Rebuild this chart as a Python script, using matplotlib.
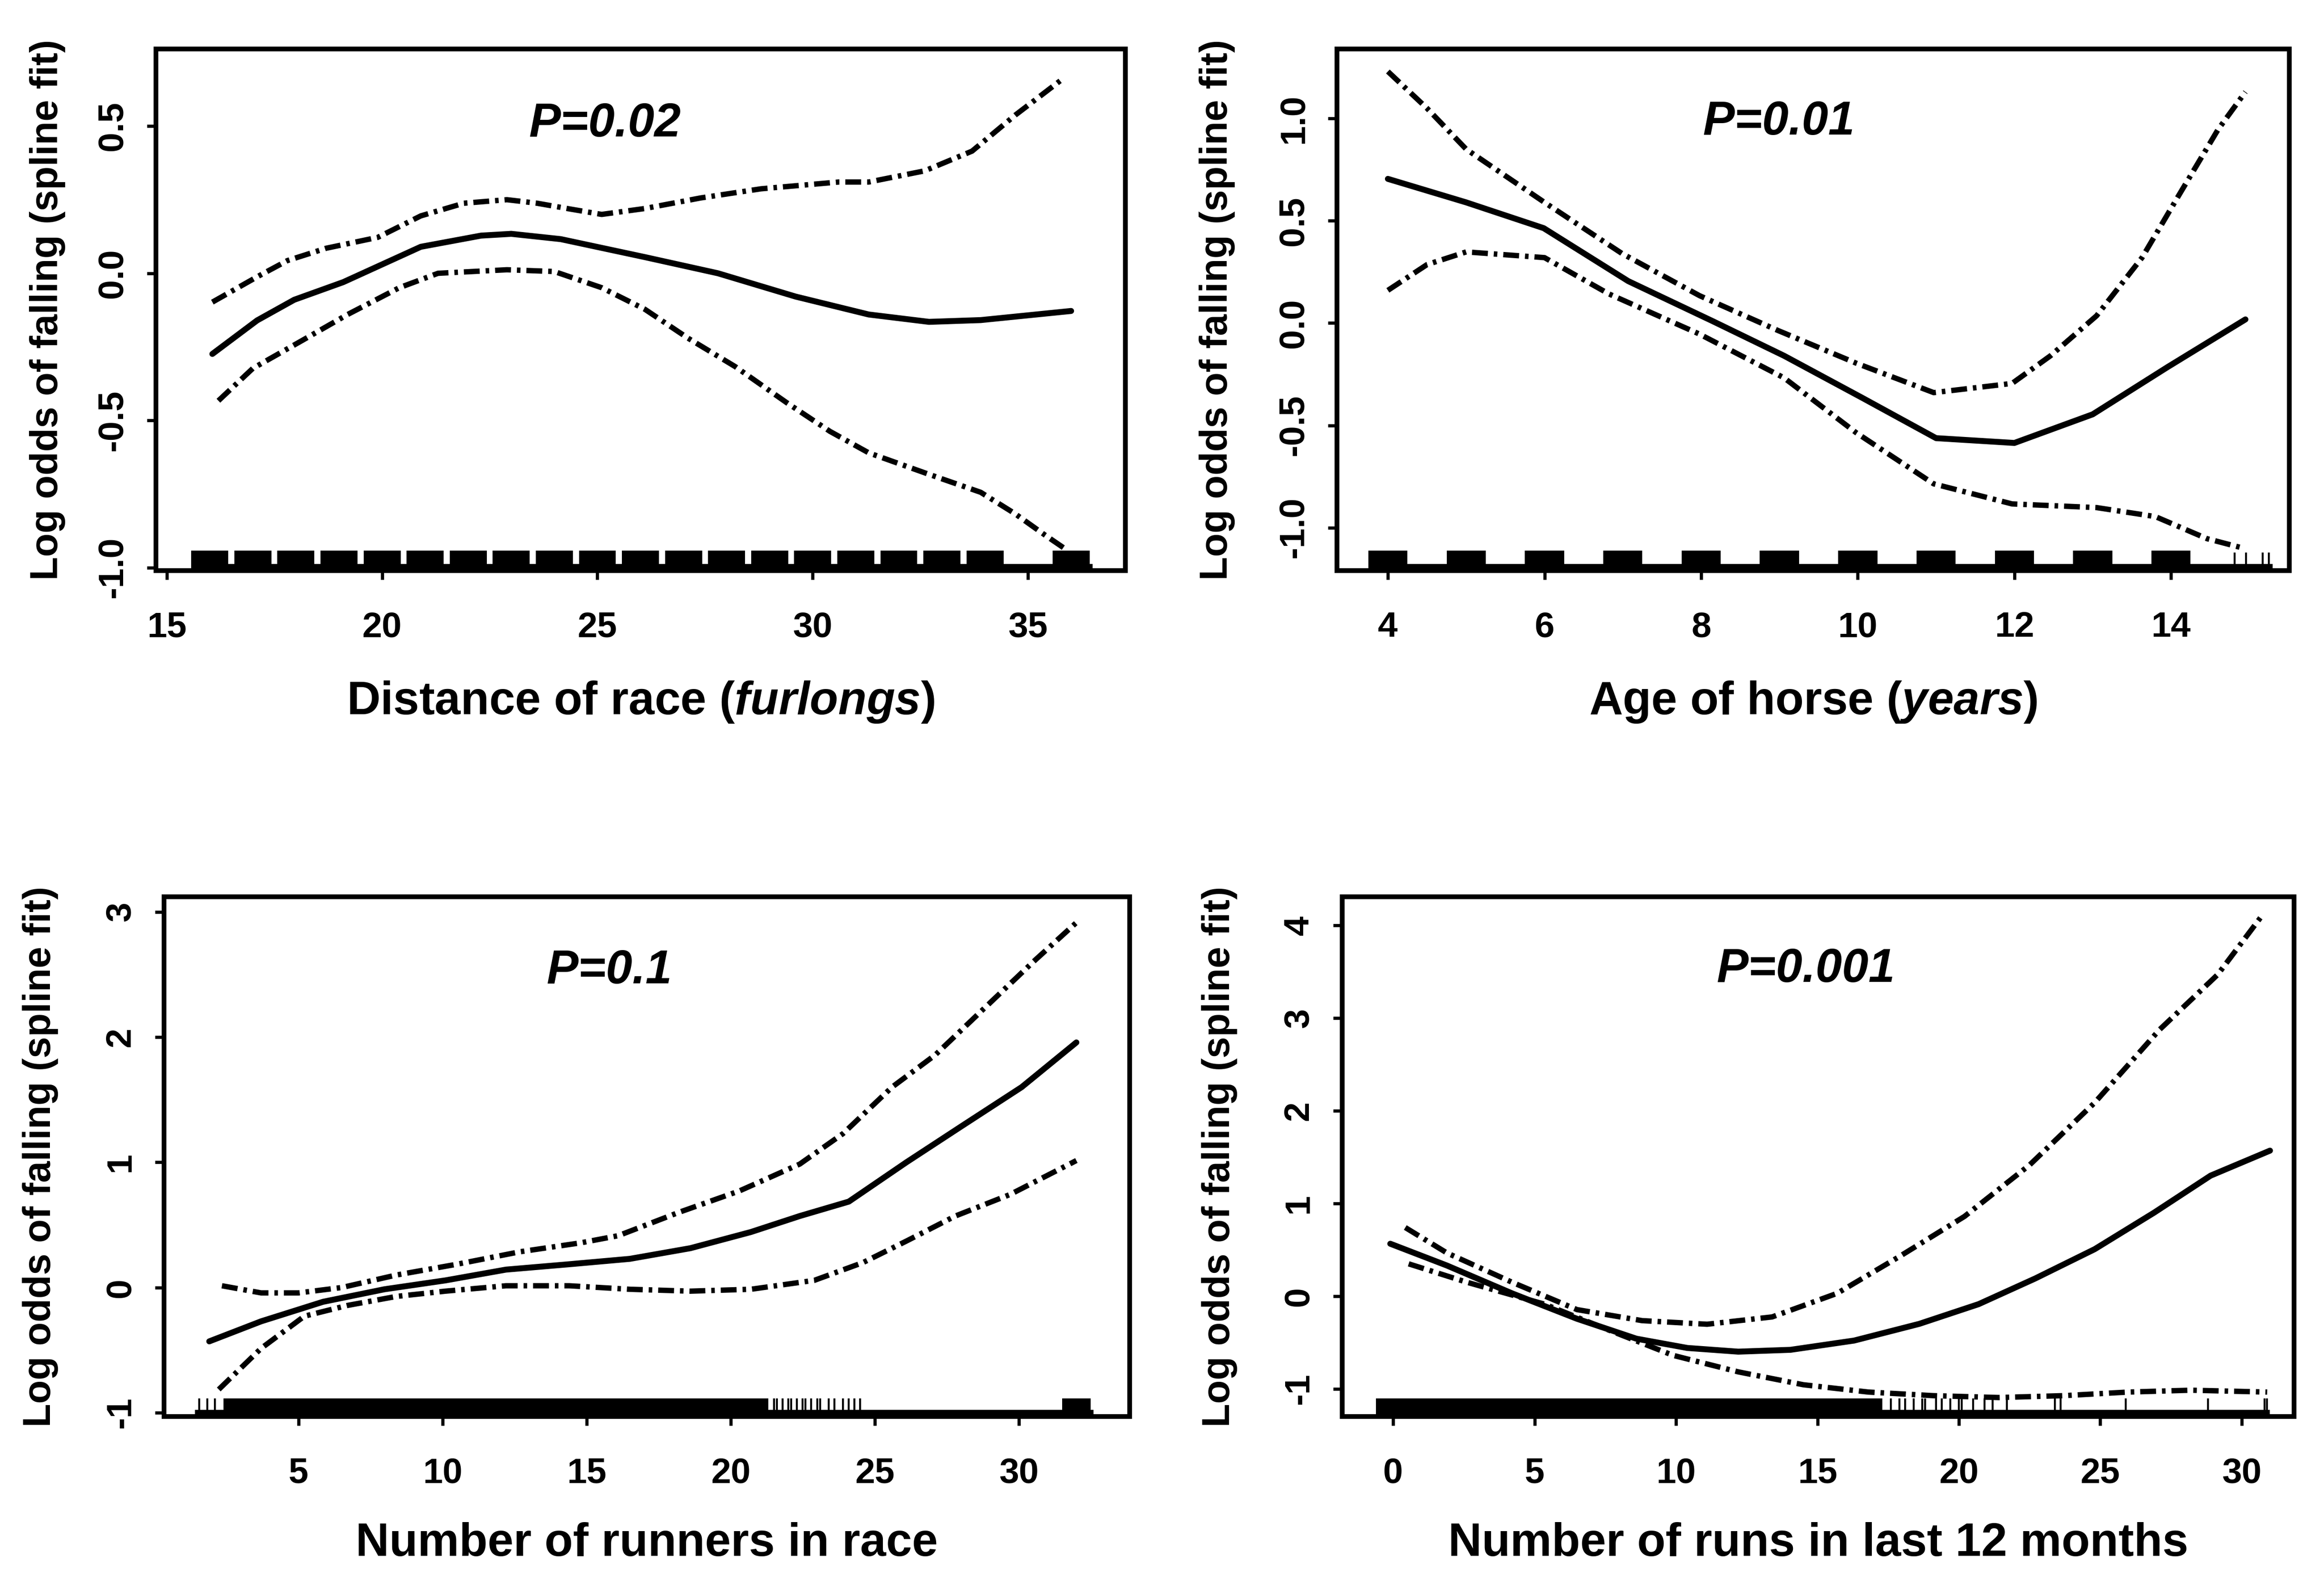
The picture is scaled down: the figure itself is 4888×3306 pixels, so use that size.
import numpy as np
import matplotlib
matplotlib.use("Agg")
import matplotlib.pyplot as plt

plt.rcParams['font.family'] = ['Liberation Sans', 'DejaVu Sans']
plt.rcParams['font.weight'] = 'bold'
plt.rcParams['axes.labelweight'] = 'bold'
plt.rcParams['mathtext.fontset'] = 'custom'
plt.rcParams['mathtext.rm'] = 'Liberation Sans:bold'
plt.rcParams['mathtext.it'] = 'Liberation Sans:italic:bold'
plt.rcParams['axes.unicode_minus'] = False
plt.rcParams['lines.scale_dashes'] = False

# ---- Distance of race (furlongs)
dist_fit_x = [16.06, 17.1, 17.96, 19.1, 20.9, 22.3, 23.0, 24.15, 26.1, 27.8, 29.6, 31.3, 32.7, 33.9, 36.0]
dist_fit_y = [-0.274, -0.16, -0.09, -0.03, 0.09, 0.128, 0.134, 0.116, 0.055, 0.0, -0.079, -0.14, -0.165, -0.159, -0.128]
dist_up_x = [16.06, 17.1, 17.8, 18.7, 19.9, 20.9, 21.9, 22.9, 23.6, 24.3, 25.1, 26.1, 27.4, 28.8, 30.6, 31.3, 32.6, 33.7, 34.7, 35.8]
dist_up_y = [-0.098, -0.012, 0.043, 0.085, 0.122, 0.195, 0.238, 0.25, 0.238, 0.22, 0.2, 0.22, 0.256, 0.287, 0.31, 0.31, 0.348, 0.415, 0.537, 0.66]
dist_lo_x = [16.2, 17.0, 18.1, 19.2, 20.4, 21.3, 22.9, 24.0, 25.1, 26.1, 27.1, 28.2, 29.4, 30.4, 31.3, 32.7, 33.9, 34.7, 35.4, 35.9]
dist_lo_y = [-0.433, -0.323, -0.232, -0.14, -0.049, 0.0, 0.012, 0.006, -0.049, -0.122, -0.22, -0.317, -0.44, -0.537, -0.61, -0.683, -0.744, -0.817, -0.89, -0.94]
dist_rug = [16, 17, 18, 19, 20, 21, 22, 23, 24, 25, 26, 27, 28, 29, 30, 31, 32, 33, 34, 36]

# ---- Age of horse (years)
age_fit_x = [4.0, 5.0, 5.99, 7.07, 8.15, 9.06, 10.06, 11.0, 12.0, 13.0, 13.96, 14.95]
age_fit_y = [0.705, 0.59, 0.464, 0.205, 0.009, -0.16, -0.366, -0.5625, -0.586, -0.446, -0.214, 0.018]
age_up_x = [4.0, 4.5, 5.0, 6.0, 6.99, 7.98, 8.98, 9.98, 10.97, 11.97, 12.46, 13.05, 13.63, 14.1, 14.6, 14.95]
age_up_y = [1.23, 1.05, 0.85, 0.59, 0.34, 0.134, -0.036, -0.196, -0.34, -0.295, -0.16, 0.036, 0.32, 0.625, 0.946, 1.13]
age_lo_x = [4.0, 4.5, 5.0, 6.0, 6.82, 7.98, 9.06, 9.98, 10.97, 11.97, 13.05, 13.8, 14.46, 14.9]
age_lo_y = [0.16, 0.286, 0.348, 0.32, 0.143, -0.054, -0.268, -0.536, -0.786, -0.884, -0.902, -0.946, -1.054, -1.098]
age_rug = [4, 5, 6, 7, 8, 9, 10, 11, 12, 13, 14]
age_rug_thin = [14.81, 14.96, 15.17, 15.25]

# ---- Number of runners in race
run_fit_x = [1.9, 3.7, 5.85, 7.98, 10.1, 12.2, 14.4, 16.5, 18.6, 20.7, 22.4, 24.1, 26.1, 28.0, 30.1, 32.0]
run_fit_y = [-0.43, -0.27, -0.114, -0.014, 0.057, 0.143, 0.186, 0.229, 0.314, 0.443, 0.571, 0.686, 1.0, 1.286, 1.6, 1.957]
run_up_x = [2.34, 3.7, 5.0, 6.5, 8.4, 10.5, 12.7, 14.8, 16.1, 18.2, 20.3, 22.4, 23.9, 25.6, 27.1, 28.8, 30.5, 32.0]
run_up_y = [0.014, -0.043, -0.043, 0.0, 0.1, 0.186, 0.286, 0.357, 0.414, 0.6, 0.771, 0.986, 1.229, 1.6, 1.857, 2.229, 2.6, 2.914]
run_lo_x = [2.23, 3.7, 5.2, 6.7, 8.4, 10.1, 12.2, 14.4, 16.5, 18.6, 20.7, 22.9, 24.6, 26.1, 27.8, 29.7, 32.0]
run_lo_y = [-0.814, -0.486, -0.229, -0.143, -0.071, -0.029, 0.014, 0.014, -0.014, -0.029, -0.014, 0.057, 0.2, 0.371, 0.571, 0.743, 1.014]
run_rug_spans = [(2.4, 21.3), (31.5, 32.5)]
run_rug_thin = [1.55, 1.83, 2.1, 21.5, 21.6, 21.8, 22.0, 22.1, 22.3, 22.5, 22.6, 22.8, 23.0, 23.1,
                23.4, 23.6, 23.9, 24.1, 24.3, 24.5]

# ---- Number of runs in last 12 months
nrun_fit_x = [-0.1, 1.9, 4.2, 6.5, 8.6, 10.4, 12.2, 14.05, 16.3, 18.6, 20.7, 22.7, 24.8, 26.9, 28.9, 31.0]
nrun_fit_y = [0.565, 0.33, 0.03, -0.245, -0.46, -0.56, -0.6, -0.58, -0.48, -0.3, -0.087, 0.19, 0.506, 0.9, 1.3, 1.57]
nrun_up_x = [0.43, 1.9, 4.2, 6.5, 8.8, 11.1, 13.4, 15.7, 17.9, 20.2, 22.5, 24.8, 27.1, 29.15, 30.75]
nrun_up_y = [0.74, 0.466, 0.15, -0.146, -0.265, -0.304, -0.225, 0.03, 0.427, 0.86, 1.415, 2.087, 2.877, 3.47, 4.12]
nrun_lo_x = [0.55, 2.6, 5.35, 7.6, 9.9, 12.2, 14.5, 16.8, 19.1, 21.4, 23.7, 26.0, 28.2, 30.9]
nrun_lo_y = [0.348, 0.15, -0.087, -0.364, -0.64, -0.818, -0.957, -1.036, -1.075, -1.095, -1.075, -1.036, -1.016, -1.036]
nrun_rug_spans = [(-0.6, 17.3)]
nrun_rug_thin = [17.6, 17.9, 18.1, 18.4, 18.7, 18.8, 19.2, 19.4, 19.7, 20.0, 20.1, 20.5, 20.9, 21.2, 21.7,
                 23.4, 23.6, 25.9, 28.8, 30.8, 30.9]

W, H = 4888, 3306
fig = plt.figure(figsize=(W / 300, H / 300), dpi=300)


def box(l, t, r, b):
    # pixel box -> figure fraction
    return [l / W, 1 - b / H, (r - l) / W, (b - t) / H]


DASHDOT = (8, 3, 1.8, 3)


def panel(rect, xlim, ylim, xticks, yticks, ytick_fmt, fit, up, lo, xlabel, ptext, ppos,
          ylab_x, rug_blocks=None, block_w=0.8, rug_spans=(), rug_thin=(), base=None):
    ax = fig.add_axes(rect)
    ax.set_xlim(*xlim)
    ax.set_ylim(*ylim)
    yr = ylim[1] - ylim[0]

    # rug along the bottom
    if base is not None:
        ax.bar([(base[0] + base[1]) / 2], [0.013 * yr], width=base[1] - base[0],
               bottom=ylim[0], color='black', linewidth=0)
    if rug_blocks is not None:
        ax.bar(rug_blocks, [0.038 * yr] * len(rug_blocks), width=block_w,
               bottom=ylim[0], color='black', linewidth=0)
    for a, b in rug_spans:
        ax.bar([(a + b) / 2], [0.035 * yr], width=b - a, bottom=ylim[0],
               color='black', linewidth=0)
    if len(rug_thin):
        ax.vlines(rug_thin, ylim[0], ylim[0] + 0.035 * yr, color='black', lw=1.0)

    ax.plot(fit[0], fit[1], color='black', lw=3.0, solid_capstyle='round',
            solid_joinstyle='round')
    for xs, ys in (up, lo):
        ax.plot(xs, ys, color='black', lw=2.7, linestyle=(0, DASHDOT),
                dash_capstyle='butt')

    ax.set_xticks(xticks)
    ax.set_yticks(yticks)
    ax.set_yticklabels([ytick_fmt.format(v) for v in yticks])
    ax.tick_params(axis='both', direction='out', length=4.5, width=1.6,
                   labelsize=18, top=False, right=False)
    ax.tick_params(axis='x', pad=16)
    ax.tick_params(axis='y', pad=9, labelrotation=90)
    for lbl in ax.get_yticklabels():
        lbl.set_va('center')
    for s in ax.spines.values():
        s.set_linewidth(2.4)

    ax.set_xlabel(xlabel, fontsize=23.5, va='center')
    ax.xaxis.set_label_coords(0.5, ppos[2])
    ax.set_ylabel('Log odds of falling (spline fit)', fontsize=19.5, va='center')
    ax.yaxis.set_label_coords(ylab_x, 0.5)
    ax.text(ppos[0], ppos[1], ptext, transform=ax.transAxes, fontsize=24,
            fontstyle='italic', ha='center', va='center')
    return ax


panel(box(328, 103, 2367, 1200), (14.75, 37.26), (-1.01, 0.762),
      [15, 20, 25, 30, 35], [-1.0, -0.5, 0.0, 0.5], '{:.1f}',
      (dist_fit_x, dist_fit_y), (dist_up_x, dist_up_y), (dist_lo_x, dist_lo_y),
      'Distance of race ($\\mathit{furlongs}$)', 'P=0.02', (0.463, 0.856, -0.2525),
      -0.112, rug_blocks=dist_rug, block_w=0.86, base=(15.6, 36.5))

panel(box(2812, 103, 4815, 1200), (3.35, 15.51), (-1.21, 1.34),
      [4, 6, 8, 10, 12, 14], [-1.0, -0.5, 0.0, 0.5, 1.0], '{:.1f}',
      (age_fit_x, age_fit_y), (age_up_x, age_up_y), (age_lo_x, age_lo_y),
      'Age of horse ($\\mathit{years}$)', 'P=0.01', (0.464, 0.86, -0.2525),
      -0.126, rug_blocks=age_rug, block_w=0.5, rug_thin=age_rug_thin, base=(3.75, 15.3))

panel(box(345, 1886, 2376, 2979), (0.33, 33.85), (-1.03, 3.12),
      [5, 10, 15, 20, 25, 30], [-1, 0, 1, 2, 3], '{:d}',
      (run_fit_x, run_fit_y), (run_up_x, run_up_y), (run_lo_x, run_lo_y),
      'Number of runners in race', 'P=0.1', (0.461, 0.857, -0.245),
      -0.128, rug_spans=run_rug_spans, rug_thin=run_rug_thin, base=(1.4, 32.6))

panel(box(2823, 1886, 4825, 2979), (-1.8, 31.85), (-1.30, 4.31),
      [0, 5, 10, 15, 20, 25, 30], [-1, 0, 1, 2, 3, 4], '{:d}',
      (nrun_fit_x, nrun_fit_y), (nrun_up_x, nrun_up_y), (nrun_lo_x, nrun_lo_y),
      'Number of runs in last 12 months', 'P=0.001', (0.487, 0.86, -0.245),
      -0.129, rug_spans=nrun_rug_spans, rug_thin=nrun_rug_thin, base=(-0.6, 31.0))

fig.savefig('out.png', dpi=300)
